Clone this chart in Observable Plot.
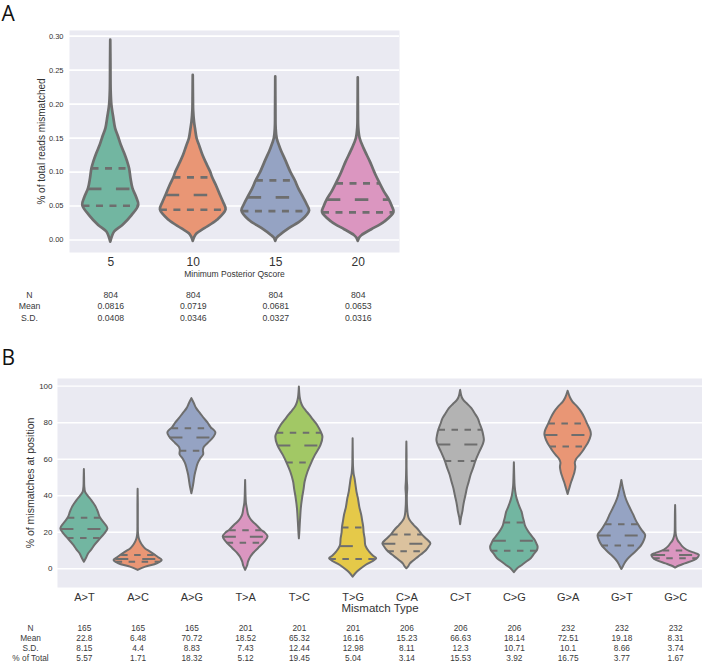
<!DOCTYPE html>
<html><head><meta charset="utf-8">
<script src="https://cdn.jsdelivr.net/npm/d3@7"></script>
<script src="https://cdn.jsdelivr.net/npm/@observablehq/plot@0.6"></script>
<style>
body{margin:0;background:#fff;}
#wrap{position:relative;width:702px;height:663px;overflow:hidden;background:#fff;}
#wrap > svg{position:absolute;left:0;overflow:visible;}
</style></head><body><div id="wrap"></div>
<script>
// ---------- Panel A data ----------
const qscores = [5, 10, 15, 20];
const qN = [804, 804, 804, 804];
const qMean = [0.0816, 0.0719, 0.0681, 0.0653];
const qSD = [0.0408, 0.0346, 0.0327, 0.0316];
const yTicksA = [0, 0.05, 0.10, 0.15, 0.20, 0.25, 0.30];
// violin profiles: [value, density (relative half-width)]
const violinQ5 = [[-0.003,0],[0.004,1.5],[0.0118,4],[0.0215,12.5],[0.036,22],[0.051,29],[0.063,26.7],[0.0756,23],[0.09,21],[0.105,19.5],[0.115,17.5],[0.127,14.5],[0.139,11],[0.152,8],[0.164,5],[0.181,3],[0.198,1.2],[0.22,0.4],[0.26,0.2],[0.294,0]];
const violinQ10 = [[-0.002,0],[0.004,1.5],[0.0093,4],[0.0167,12],[0.029,25],[0.0446,34],[0.055,31.5],[0.0663,28],[0.08,24],[0.092,20],[0.100,18],[0.112,14],[0.1247,10],[0.137,7],[0.149,4],[0.162,2.5],[0.174,1.3],[0.19,0.4],[0.21,0.2],[0.2425,0]];
const violinQ15 = [[-0.002,0],[0.003,1.5],[0.0068,4.5],[0.0167,14],[0.029,27.5],[0.0427,35],[0.052,32.5],[0.063,28.5],[0.075,24],[0.088,20],[0.100,15.5],[0.115,11],[0.1345,5],[0.149,1.5],[0.165,0.4],[0.19,0.2],[0.240,0]];
const violinQ20 = [[-0.002,0],[0.003,1.5],[0.0068,4],[0.0152,14],[0.0265,27.5],[0.0407,37],[0.05,35],[0.0594,32],[0.071,27],[0.0834,22.5],[0.095,18.5],[0.105,15.5],[0.115,12.5],[0.1345,6],[0.149,2],[0.165,0.5],[0.19,0.2],[0.2387,0]];
// quartiles [q1, median, q3]
const quartQ5 = [0.0505, 0.0753, 0.1055];
const quartQ10 = [0.0446, 0.0663, 0.0922];
const quartQ15 = [0.0427, 0.0628, 0.0878];
const quartQ20 = [0.0407, 0.0594, 0.0834];

// ---------- Panel B data ----------
const mismatchTypes = ["A>T","A>C","A>G","T>A","T>C","T>G","C>A","C>T","C>G","G>A","G>T","G>C"];
const mN = [165,165,165,201,201,201,206,206,206,232,232,232];
const mMean = [22.8,6.48,70.72,18.52,65.32,16.16,15.23,66.63,18.14,72.51,19.18,8.31];
const mSD = [8.15,4.4,8.83,7.43,12.44,12.98,8.11,12.3,10.71,10.1,8.66,3.74];
const mPct = [5.57,1.71,18.32,5.12,19.45,5.04,3.14,15.53,3.92,16.75,3.77,1.67];
const yTicksB = [0, 20, 40, 60, 80, 100];
const violinAT = [[3.6,0],[5.5,2],[8.2,4.5],[10.5,8],[12.8,11],[16.8,17.5],[19.5,22],[21.9,24.5],[24.5,21.5],[27.9,16.7],[31,14.5],[33.5,12.5],[35.6,10],[37.5,7.5],[39.3,4.7],[40.8,2.5],[42,1.2],[45,0.4],[50,0.2],[54.4,0]];
const violinAC = [[-0.9,0],[0.9,8],[2.7,20],[4.6,25],[6.2,21],[7.3,18],[9.1,13],[11,7.5],[12.5,5],[13.7,3.5],[15,2.2],[16.4,1.2],[19,0.4],[25,0.2],[35,0.2],[43.5,0]];
const violinAG = [[41.1,0],[44,1.2],[47.5,2.3],[51.1,3.3],[54.8,5],[57.5,6.5],[60,9],[62.5,12.3],[64.8,12],[66.5,13],[68.5,16.7],[72,23],[74.5,25],[77.3,20],[80,16.5],[82.2,13],[85,9],[87.7,5],[90.5,2.5],[93.2,0]];
const violinTA = [[-0.9,0],[1.5,2],[3.6,3],[6.4,5.5],[8.5,8.5],[11,13.3],[14.6,20],[17.4,23.3],[19.5,20.5],[21,16.7],[23.7,11.7],[25.5,8],[27.4,5],[29.5,3],[32.9,1.8],[36,0.8],[40,0.4],[44,0.2],[48.4,0]];
const violinTC = [[16.4,0],[20,0.5],[25,1],[29.2,1.5],[32.9,2],[38.4,3.3],[43.8,5],[47.5,6],[53,9],[58.4,13.3],[62.1,16.7],[67.6,22.5],[72.1,24.5],[74.5,23],[78.5,19],[81.5,14.5],[84,11],[86.5,7],[88.6,4],[91,2],[94,0.8],[99.5,0]];
const violinTG = [[-4.6,0],[-1.8,4.5],[1.8,13.3],[5.5,24.5],[7,21],[9.1,17.2],[12.4,13.3],[16.4,12.5],[19.5,11.5],[22.8,11],[26,10],[29.2,9],[33.5,7],[38.4,5.5],[42,4],[45.7,3],[49.3,2],[52,1],[56,0.4],[62,0.2],[71.2,0]];
const violinCA = [[0,0],[1.2,2],[2.7,3.7],[4,6.5],[5.5,10],[7.5,15],[9.7,20],[11.8,23],[13.7,25],[16,21],[18.6,16],[20.3,13.5],[21.9,11],[23.8,7.5],[25.6,4.5],[27.3,2.5],[29.2,1.5],[35,0.6],[40,0.5],[44,0.9],[48,0.5],[55,0.2],[62,0.2],[69.4,0]];
const violinCT = [[24.1,0],[28,1],[31,2.3],[33.5,3],[36.5,4],[40,5.5],[43.8,7],[47.5,9],[51.1,10.8],[55,13.5],[59,16],[63.9,20],[68.1,23.7],[70.3,24.7],[73,24],[76.2,22.5],[79,20.5],[82.2,18.3],[85,15],[87.7,11.7],[90,7.5],[92.2,3.3],[94,1.5],[97.7,0]];
const violinCG = [[-2.2,0],[0,3.5],[1.8,8.3],[3.7,13],[5.5,17.5],[8,21],[10,24],[11.9,24.7],[13.5,23.5],[15.5,21.7],[18,18],[21,14],[23.5,11.5],[25.6,10.5],[28,9.3],[31,8],[33.5,6],[35.6,4.5],[38,3],[40.2,2],[45,0.8],[50,0.4],[54,0.2],[58.1,0]];
const violinGA = [[40.7,0],[44,1.8],[47.5,3.8],[50,5.5],[52.5,7],[55.5,8],[58,7.5],[60,9],[62.1,12.5],[64.5,16],[67,19],[68.5,20.8],[71,23],[73.4,24.2],[75.5,23.5],[79.5,20],[82.5,17.5],[85.8,14],[88.5,10],[91.3,5],[93.5,2.5],[97.2,0]];
const violinGT = [[-0.4,0],[1.5,2],[3.65,4.2],[6,8],[8.2,12.5],[10.5,17],[12.8,20.8],[15.5,23.5],[18.3,24.7],[21,21],[24.4,17],[26.8,14.5],[29.2,12.5],[32.9,9],[36.5,5.8],[39,4],[42,2.5],[45,1.2],[48.4,0]];
const violinGC = [[0.4,0],[1.5,4],[2.7,10],[4.6,20],[6,23.5],[7.3,24.7],[8.3,21],[9.5,14.5],[11,9.7],[12.3,7],[13.7,5],[15,3],[16.4,1.8],[19,0.6],[25,0.3],[30,0.2],[34.7,0]];
const quartAT = [16.8, 21.8, 27.9];
const quartAC = [3.8, 5.3, 7.6];
const quartAG = [64.6, 71.9, 77.0];
const quartTA = [14.2, 17.5, 21.1];
const quartTC = [58.2, 67.5, 74.5];
const quartTG = [5.4, 12.4, 22.6];
const quartCA = [9.6, 13.7, 18.7];
const quartCT = [59.0, 68.1, 76.2];
const quartCG = [9.9, 15.3, 25.3];
const quartGA = [66.9, 73.3, 79.5];
const quartGT = [12.7, 18.2, 24.4];
const quartGC = [5.7, 7.5, 10.0];

// ---------- helpers ----------
const palette = d3.schemeSet2.map(c => { const h = d3.hsl(c); h.s *= 0.75; return h.formatHex(); });
const outline = "#6e6e6e";
const font = "'Liberation Sans', Arial, sans-serif";

function halfAt(profile, v) {
  for (let j = 0; j < profile.length - 1; j++) {
    const [a, da] = profile[j], [b, db] = profile[j + 1];
    if (v >= a && v <= b) return da + (db - da) * (v - a) / (b - a);
  }
  return 0;
}
function buildRows(profiles, k) {
  const rows = [];
  profiles.forEach((p, i) => p.forEach(([v, d]) => rows.push({i, v, x1: i - d * k, x2: i + d * k, fill: palette[i % 8]})));
  return rows;
}
function buildQuart(profiles, quarts, k, which) {
  return quarts.map((q, i) => { const v = q[which]; const d = halfAt(profiles[i], v); return {i, v, x1: i - d * k, x2: i + d * k}; });
}
function tableMarks(rows, fs, dx) {
  const marks = [];
  rows.forEach(([label, vals, dy]) => {
    marks.push(Plot.text([label], {frameAnchor: "bottom-left", dx, dy, text: d => d, textAnchor: "middle", lineAnchor: "middle", fontSize: fs, fill: "#3a3a3a"}));
    marks.push(Plot.text(vals, {x: (d, i) => i, frameAnchor: "bottom", dy, text: d => String(d), lineAnchor: "middle", fontSize: fs, fill: "#3a3a3a"}));
  });
  return marks;
}

const wrap = document.getElementById("wrap");

// ---------- Panel A ----------
const profA = [violinQ5, violinQ10, violinQ15, violinQ20];
const quartA = [quartQ5, quartQ10, quartQ15, quartQ20];
const kA = 0.445 / 38;
const plotA = Plot.plot({
  width: 702, height: 325,
  marginLeft: 69, marginRight: 303, marginTop: 30, marginBottom: 73,
  style: {fontFamily: font, color: "#333", background: "transparent", overflow: "visible"},
  x: {domain: [-0.5, 3.5], axis: null},
  y: {domain: [-0.0183, 0.3083], axis: null},
  color: {type: "identity"},
  marks: [
    Plot.frame({fill: "#eaeaf2", stroke: "none"}),
    Plot.gridY(yTicksA, {stroke: "#fff", strokeOpacity: 1, strokeWidth: 1.6}),
    Plot.areaX(buildRows(profA, kA), {y: "v", x1: "x1", x2: "x2", z: "i", fill: "fill", stroke: outline, strokeWidth: 2.7, curve: "catmull-rom"}),
    Plot.ruleY(buildQuart(profA, quartA, kA, 1), {y: "v", x1: "x1", x2: "x2", stroke: outline, strokeWidth: 2.7, strokeDasharray: "13.5,14.5"}),
    Plot.ruleY(buildQuart(profA, quartA, kA, 0), {y: "v", x1: "x1", x2: "x2", stroke: outline, strokeWidth: 2.7, strokeDasharray: "7,6.5"}),
    Plot.ruleY(buildQuart(profA, quartA, kA, 2), {y: "v", x1: "x1", x2: "x2", stroke: outline, strokeWidth: 2.7, strokeDasharray: "7,6.5"}),
    Plot.axisX({ticks: d3.range(qscores.length), tickFormat: i => qscores[i], tickSize: 0, tickPadding: 5, fontSize: 12, label: null}),
    Plot.axisY({ticks: yTicksA, tickFormat: d3.format(".2f"), tickSize: 0, tickPadding: 6, fontSize: 7.5, label: null}),
    Plot.text(["% of total reads mismatched"], {frameAnchor: "left", dx: -28, rotate: -90, text: d => d, textAnchor: "middle", lineAnchor: "middle", fontSize: 10}),
    Plot.text(["Minimum Posterior Qscore"], {frameAnchor: "bottom", dy: 21.7, text: d => d, lineAnchor: "middle", fontSize: 8.5}),
    Plot.text(["A"], {frameAnchor: "top-left", dx: -68, dy: -16.5, text: d => d, textAnchor: "start", lineAnchor: "middle", fontSize: 21, fontFamily: "'Open Sans', sans-serif", fill: "#111"}),
    ...tableMarks([["N", qN, 43], ["Mean", qMean, 54], ["S.D.", qSD, 65.3]], 8.7, -40)
  ]
});
plotA.style.top = "0px";
wrap.appendChild(plotA);

// ---------- Panel B ----------
const profB = [violinAT, violinAC, violinAG, violinTA, violinTC, violinTG, violinCA, violinCT, violinCG, violinGA, violinGT, violinGC];
const quartB = [quartAT, quartAC, quartAG, quartTA, quartTC, quartTG, quartCA, quartCT, quartCG, quartGA, quartGT, quartGC];
const kB = 0.447 / 25;
const plotB = Plot.plot({
  width: 702, height: 338,
  marginLeft: 57, marginRight: 0, marginTop: 53, marginBottom: 76,
  style: {fontFamily: font, color: "#333", background: "transparent", overflow: "visible"},
  x: {domain: [-0.5, 11.5], axis: null},
  y: {domain: [-10.26, 104.2], axis: null},
  color: {type: "identity"},
  marks: [
    Plot.frame({fill: "#eaeaf2", stroke: "none"}),
    Plot.gridY(yTicksB, {stroke: "#fff", strokeOpacity: 1, strokeWidth: 1.4}),
    Plot.areaX(buildRows(profB, kB), {y: "v", x1: "x1", x2: "x2", z: "i", fill: "fill", stroke: outline, strokeWidth: 2, curve: "catmull-rom"}),
    Plot.ruleY(buildQuart(profB, quartB, kB, 1), {y: "v", x1: "x1", x2: "x2", stroke: outline, strokeWidth: 2, strokeDasharray: "13,14"}),
    Plot.ruleY(buildQuart(profB, quartB, kB, 0), {y: "v", x1: "x1", x2: "x2", stroke: outline, strokeWidth: 2, strokeDasharray: "6.5,6.5"}),
    Plot.ruleY(buildQuart(profB, quartB, kB, 2), {y: "v", x1: "x1", x2: "x2", stroke: outline, strokeWidth: 2, strokeDasharray: "6.5,6.5"}),
    Plot.axisX({ticks: d3.range(mismatchTypes.length), tickFormat: i => mismatchTypes[i], tickSize: 0, tickPadding: 6, fontSize: 11, label: null}),
    Plot.axisY({ticks: yTicksB, tickSize: 0, tickPadding: 5, fontSize: 8, label: null}),
    Plot.text(["% of mismatches at position"], {frameAnchor: "left", dx: -26.6, rotate: -90, text: d => d, textAnchor: "middle", lineAnchor: "middle", fontSize: 10.5}),
    Plot.text(["Mismatch Type"], {frameAnchor: "bottom", dy: 21.3, text: d => d, lineAnchor: "middle", fontSize: 11.5}),
    Plot.text(["B"], {frameAnchor: "top-left", dx: -56, dy: -20.5, text: d => d, textAnchor: "start", lineAnchor: "middle", fontSize: 21, fontFamily: "'Open Sans', sans-serif", fill: "#111"}),
    ...tableMarks([["N", mN, 40.8], ["Mean", mMean, 51.1], ["S.D.", mSD, 61.2], ["% of Total", mPct, 71.3]], 8.3, -27)
  ]
});
plotB.style.top = "325px";
wrap.appendChild(plotB);
</script></body></html>
